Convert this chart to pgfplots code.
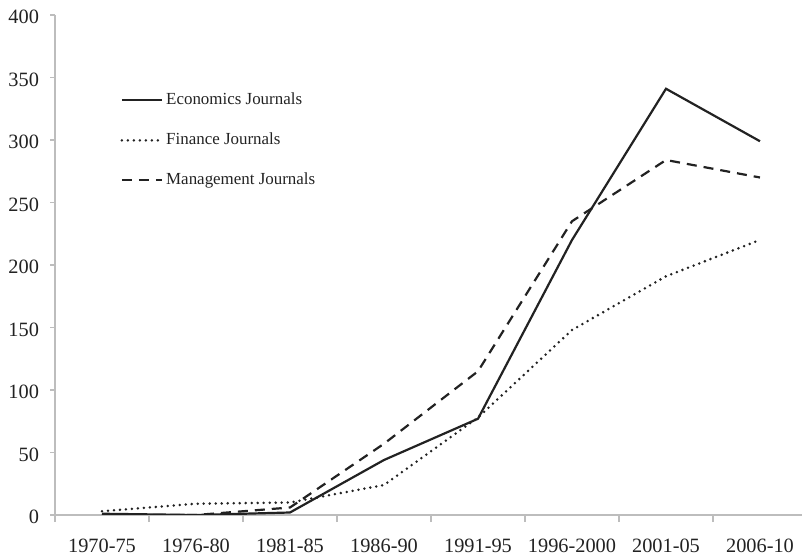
\documentclass[border=0pt]{standalone}
\usepackage{fontspec}
\setmainfont{Liberation Serif}
\usepackage{pgfplots}
\pgfplotsset{compat=1.18}
\definecolor{ink}{HTML}{222222}
\definecolor{axisgray}{HTML}{BDBDBD}
\begin{document}
\begin{tikzpicture}
\useasboundingbox (-27.5bp,-21bp) rectangle (373.5bp,257.5bp);
\begin{axis}[
    at={(0,0)}, anchor=south west,
    width=373.5bp, height=250bp, scale only axis,
    xmin=-0.5, xmax=7.447,
    ymin=0, ymax=400,
    axis x line*=bottom, axis y line*=left,
    axis line style={draw=axisgray, line width=0.6bp},
    xtick={0,...,7},
    xticklabels={1970-75,1976-80,1981-85,1986-90,1991-95,1996-2000,2001-05,2006-10},
    minor xtick={-0.5,0.5,...,6.5},
    ytick={0,50,...,400},
    tick align=outside,
    x tick style={draw=none},
    minor x tick style={draw=axisgray, line width=0.6bp},
    y tick style={draw=axisgray, line width=0.6bp},
    minor tick length=3.5bp,
    major tick length=2.5bp,
    tick label style={font=\fontsize{10.2}{12}\selectfont, text=ink},
    xticklabel style={yshift=-6bp},
    yticklabel style={xshift=-2bp, yshift=-1bp},
    /pgf/number format/assume math mode=true,
    legend style={at={(0.079,0.854)}, anchor=north west, draw=none, fill=none,
        font=\fontsize{8.5}{10}\selectfont, text=ink, row sep=12bp,
        nodes={inner sep=0pt, text height=6bp, text depth=2bp}},
    legend cell align=left,
    legend image code/.code={\draw[#1] (0bp,0bp) -- (20bp,0bp);},
]
\addplot[ink, line width=1.1bp] coordinates {
    (0,1) (1,0) (2,2) (3,44) (4,77) (5,220) (6,341) (7,299)};
\addlegendentry{\hspace{1.5bp}Economics Journals}
\addplot[ink, line width=1.4bp, line cap=round, dash pattern=on 0bp off 3bp] coordinates {
    (0,3) (1,9) (2,10) (3,24) (4,78) (5,148) (6,191) (7,220)};
\addlegendentry{\hspace{1.5bp}Finance Journals}
\addplot[ink, line width=1.1bp, dash pattern=on 5bp off 3.5bp] coordinates {
    (0,0) (1,0) (2,6) (3,57) (4,115) (5,235) (6,284) (7,270)};
\addlegendentry{\hspace{1.5bp}Management Journals}
\end{axis}
\end{tikzpicture}
\end{document}
